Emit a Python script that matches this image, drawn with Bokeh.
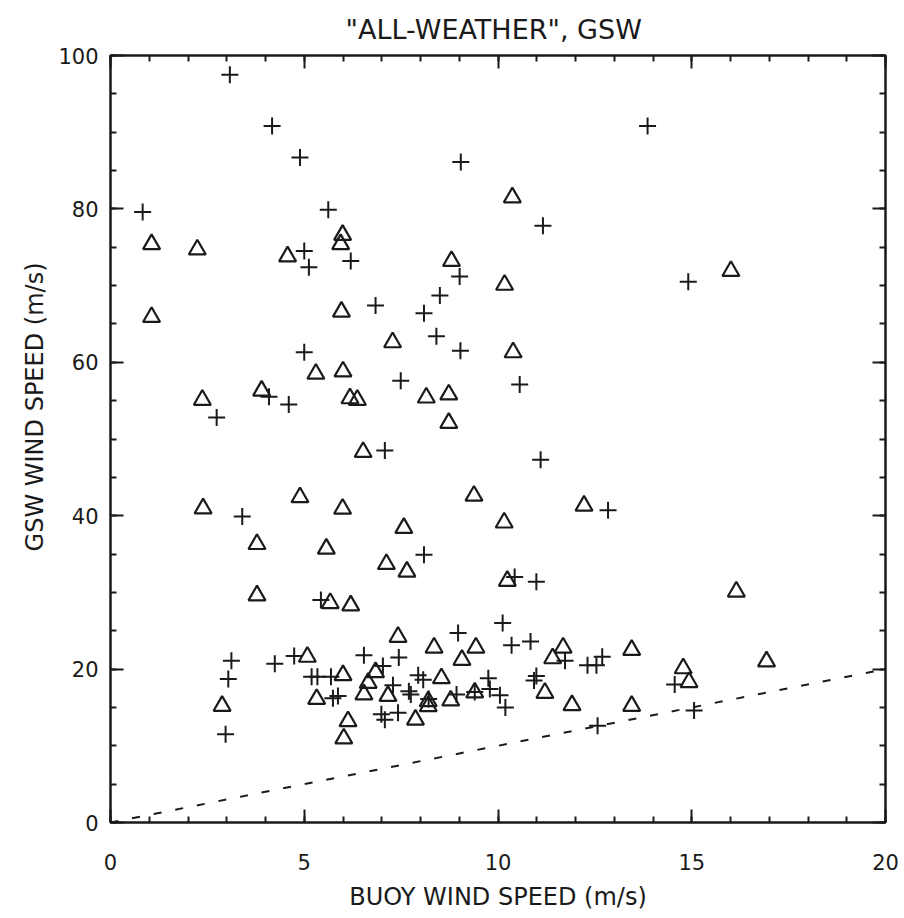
from bokeh.plotting import figure
from bokeh.models import LinearAxis, FixedTicker, Range1d, Title
from bokeh.embed import file_html
from bokeh.resources import INLINE

# GSW wind speed vs buoy wind speed, two classes of retrievals
plus_x = [3.08, 4.17, 4.89, 0.83, 5.62, 5.0, 5.12, 6.2, 6.84, 13.86, 9.04, 11.16,
          9.01, 8.5, 8.09, 8.41, 14.91, 5.0, 4.09, 4.6, 2.74, 7.08, 3.4, 5.43,
          9.03, 7.49, 10.56, 11.1, 12.84, 8.09, 10.43, 10.99, 10.12,
          3.12, 3.04, 2.97, 4.24, 4.74, 5.19, 5.34, 5.69, 5.74, 5.87, 6.54,
          8.97, 10.35, 10.84, 11.73, 12.31, 12.54, 12.69, 7.44, 7.03, 7.29, 7.7,
          7.75, 7.94, 8.07, 8.21, 8.93, 9.4, 9.75, 9.79, 10.05, 10.19, 10.99,
          10.93, 7.42, 6.99, 7.08, 12.57, 14.56, 15.06]
plus_y = [97.5, 90.8, 86.7, 79.6, 79.9, 74.5, 72.4, 73.2, 67.4, 90.8, 86.1, 77.8,
          71.2, 68.7, 66.4, 63.4, 70.5, 61.3, 55.5, 54.5, 52.8, 48.5, 39.9, 29.0,
          61.5, 57.6, 57.1, 47.3, 40.7, 34.9, 32.0, 31.4, 26.0,
          21.1, 18.7, 11.5, 20.7, 21.7, 19.0, 19.0, 19.0, 16.2, 16.5, 21.8,
          24.7, 23.1, 23.6, 21.1, 20.5, 20.5, 21.6, 21.5, 20.4, 17.9, 17.1,
          16.7, 19.2, 18.6, 16.1, 16.7, 17.0, 18.8, 17.4, 16.6, 15.0, 19.1,
          18.5, 14.3, 14.1, 13.4, 12.6, 18.0, 14.6]

tri_x = [1.06, 2.24, 4.57, 5.99, 5.94, 1.06, 5.96, 10.37, 8.8, 10.17, 16.01,
         5.3, 6.0, 2.37, 3.9, 6.18, 6.37, 6.52, 4.89, 2.39, 5.99, 3.78, 5.57,
         3.78, 5.67, 6.2, 7.12,
         7.28, 10.39, 8.15, 8.73, 8.73, 9.38, 12.22, 10.16, 7.57, 7.65, 10.24, 16.15,
         2.88, 5.08, 6.0, 5.32, 6.13, 6.02, 6.54, 6.65, 6.84, 7.42, 8.35, 9.43,
         11.68, 11.41, 13.45, 9.07, 7.16, 8.54, 8.2, 8.2, 8.78, 9.4, 11.21, 11.91,
         13.45, 7.87, 14.78, 14.93, 16.93]
tri_y = [75.4, 74.7, 73.8, 76.6, 75.4, 65.9, 66.6, 81.5, 73.2, 70.1, 71.9,
         58.5, 58.8, 55.1, 56.3, 55.3, 55.1, 48.3, 42.4, 40.95, 40.9, 36.3, 35.7,
         29.6, 28.6, 28.3, 33.7,
         62.6, 61.3, 55.4, 55.8, 52.1, 42.6, 41.3, 39.1, 38.4, 32.7, 31.5, 30.1,
         15.2, 21.6, 19.2, 16.1, 13.2, 10.95, 16.7, 18.2, 19.6, 24.2, 22.8, 22.8,
         22.8, 21.4, 22.5, 21.2, 16.5, 18.8, 15.8, 15.15, 15.9, 16.95, 16.9, 15.3,
         15.2, 13.4, 20.1, 18.3, 21.0]

# one-to-one reference line
ref_x = [0, 20]
ref_y = [0, 20]

x_major = [0, 5, 10, 15, 20]
y_major = [0, 20, 40, 60, 80, 100]
x_minor = list(range(0, 21))
y_minor = list(range(0, 101, 5))

FONT = "DejaVu Sans"
INK = "#1a1a1a"

p = figure(width=904, height=918, output_backend="svg", toolbar_location=None,
           x_range=Range1d(0, 20), y_range=Range1d(0, 100),
           min_border_left=110, min_border_right=19,
           min_border_top=55, min_border_bottom=96,
           title='"ALL-WEATHER",  GSW', x_axis_location=None, y_axis_location=None)

p.title.align = "center"
p.title.text_font = FONT
p.title.text_font_size = "27px"
p.title.text_font_style = "normal"
p.title.text_color = INK
p.title.offset = 0
p.title.standoff = 21

p.grid.visible = False
p.outline_line_color = INK
p.outline_line_width = 2
p.background_fill_color = "white"
p.border_fill_color = "white"


def style_axis(ax, ticks, minor, labels):
    ax.ticker = FixedTicker(ticks=ticks, minor_ticks=minor)
    ax.axis_line_color = INK
    ax.axis_line_width = 2
    ax.major_tick_line_color = INK
    ax.major_tick_line_width = 2
    ax.minor_tick_line_color = INK
    ax.minor_tick_line_width = 2
    ax.major_tick_in = 13
    ax.major_tick_out = 0
    ax.minor_tick_in = 6
    ax.minor_tick_out = 0
    if not labels:
        ax.major_label_text_font_size = "0px"
        ax.major_label_text_color = None
        ax.major_label_standoff = 0
    else:
        ax.major_label_text_font = FONT
        ax.major_label_text_font_size = "21px"
        ax.major_label_text_color = INK
        ax.axis_label_text_font = FONT
        ax.axis_label_text_font_size = "24px"
        ax.axis_label_text_font_style = "normal"
        ax.axis_label_text_color = INK


xb = LinearAxis(axis_label="BUOY WIND SPEED (m/s)")
style_axis(xb, x_major, x_minor, True)
xb.major_label_standoff = 31
xb.axis_label_standoff = 10
p.add_layout(xb, "below")

yl = LinearAxis()
style_axis(yl, y_major, y_minor, True)
yl.major_label_standoff = 12
p.add_layout(yl, "left")

# vertical axis title, its upper end anchored below the frame's top edge
ytitle = Title(text="GSW WIND SPEED (m/s)", align="right", offset=207, standoff=13,
               text_font=FONT, text_font_size="24px", text_font_style="normal",
               text_color=INK)
p.add_layout(ytitle, "left")

xt = LinearAxis()
style_axis(xt, x_major, x_minor, False)
p.add_layout(xt, "above")

yr = LinearAxis()
style_axis(yr, y_major, y_minor, False)
p.add_layout(yr, "right")

p.line(ref_x, ref_y, line_color=INK, line_width=2, line_dash="8 14")

p.scatter(plus_x, plus_y, marker="cross", size=17, line_color=INK, line_width=2)
p.scatter(tri_x, tri_y, marker="triangle", size=17, line_color=INK, line_width=2.2,
          fill_color=None)

open("out.html", "w").write(file_html(p, INLINE))
